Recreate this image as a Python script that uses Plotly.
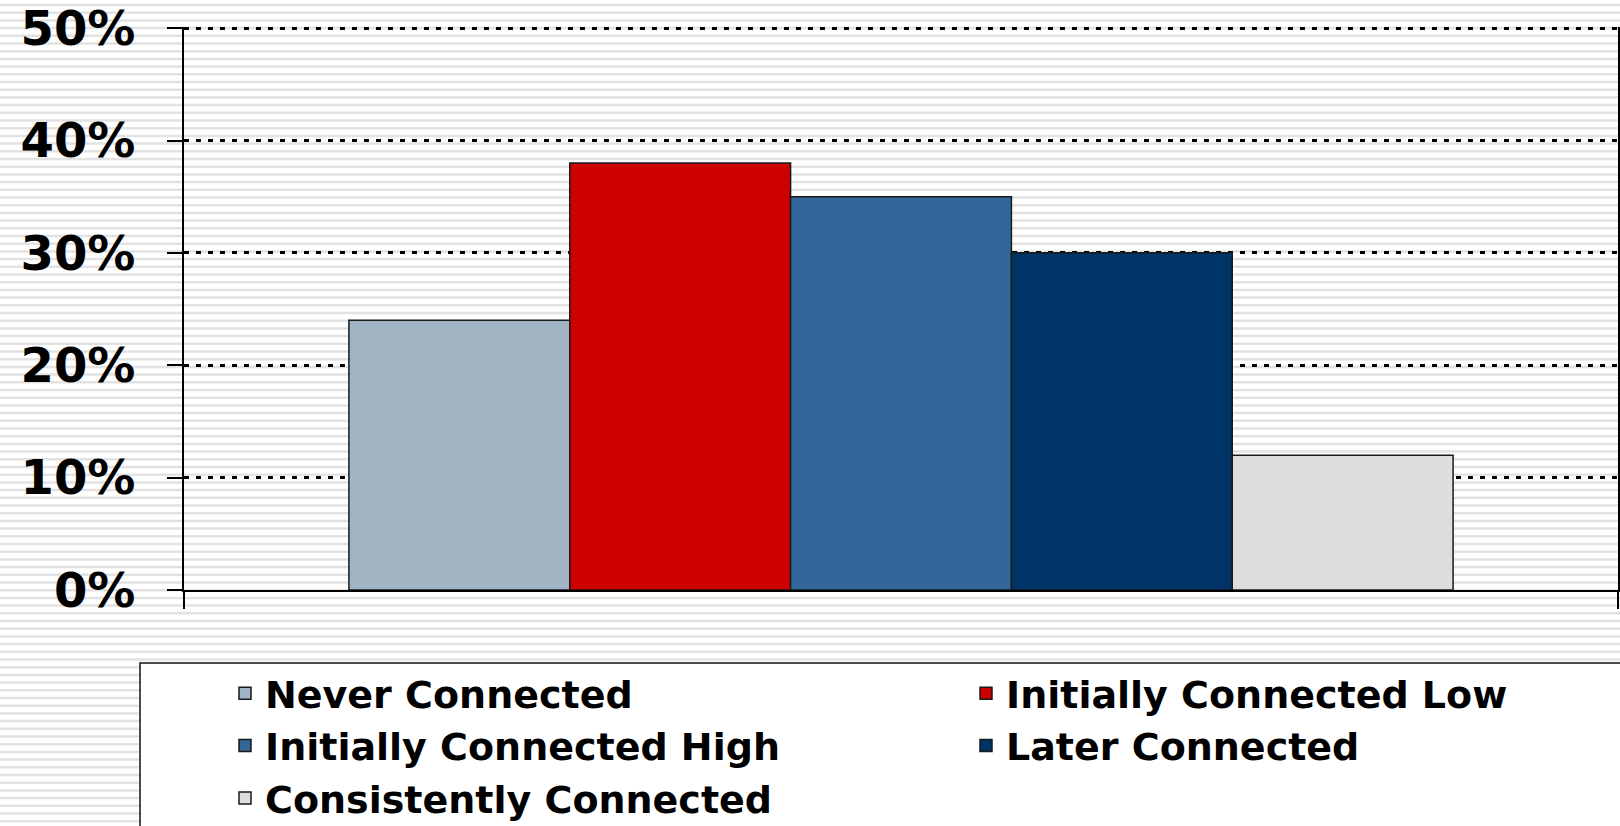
import plotly.graph_objects as go

# ---- data ----
categories = ["Never Connected", "Initially Connected Low", "Initially Connected High",
              "Later Connected", "Consistently Connected"]
values = [24, 38, 35, 30, 12]
colors = ["#A2B3C3", "#CC0000", "#336699", "#003366", "#DDDDDD"]
y_ticks = [0, 10, 20, 30, 40, 50]
y_tick_labels = ["0%", "10%", "20%", "30%", "40%", "50%"]

W, H = 1620, 826
# plot area in pixels
PL, PR, PT, PB = 184, 1618, 27, 590
YMAX = 50.1

fig = go.Figure()
for name, v, c in zip(categories, values, colors):
    fig.add_trace(go.Bar(
        x=[""], y=[v], name=name,
        marker=dict(color=c, line=dict(color="#1a1a1a", width=1.5)),
    ))

# background stripes
shapes = []
y = 5.0
while y < H + 8:
    shapes.append(dict(type="line", xref="paper", yref="paper",
                       x0=0, x1=1, y0=1 - y / H, y1=1 - y / H,
                       line=dict(color="#e2e2e2", width=2.5), layer="below"))
    y += 7.7
# legend box
shapes.append(dict(type="rect", xref="paper", yref="paper",
                   x0=140 / W, x1=1.02, y0=-0.05, y1=1 - 663 / H,
                   fillcolor="white", line=dict(color="#111111", width=1.5),
                   layer="below"))

font_b = "DejaVu Sans"
fig.update_layout(
    width=W, height=H,
    margin=dict(l=0, r=0, t=0, b=0, autoexpand=False),
    paper_bgcolor="white",
    plot_bgcolor="rgba(0,0,0,0)",
    barmode="group",
    bargap=0.23,
    shapes=shapes,
    showlegend=True,
    legend=dict(
        orientation="h",
        x=225 / W, xanchor="left",
        y=1 - 662 / H, yanchor="top",
        entrywidth=696, entrywidthmode="pixels",
        bgcolor="rgba(0,0,0,0)", borderwidth=0,
        font=dict(family=font_b, size=38, color="black", weight="bold"),
        traceorder="normal",
    ),
    xaxis=dict(
        domain=[PL / W, PR / W],
        showticklabels=False,
        tickson="boundaries",
        ticks="outside", ticklen=17, tickwidth=2, tickcolor="black",
        showline=True, linecolor="black", linewidth=2,
        showgrid=False, zeroline=False,
    ),
    yaxis=dict(
        domain=[1 - PB / H, 1 - PT / H],
        range=[0, YMAX],
        tickvals=y_ticks, ticktext=y_tick_labels,
        ticks="outside", ticklen=15, tickwidth=2, tickcolor="black",
        ticklabelstandoff=22,
        ticklabeloverflow="allow",
        tickfont=dict(family=font_b, size=48, color="black", weight="bold"),
        showline=True, linecolor="black", linewidth=2, mirror=True,
        showgrid=True, gridcolor="black", gridwidth=2.5, griddash="5px,7px",
        zeroline=False,
    ),
)

fig.write_html("out.html",
               config={"displayModeBar": False},
               post_script="document.body.style.margin='0';document.body.style.overflow='hidden';")
